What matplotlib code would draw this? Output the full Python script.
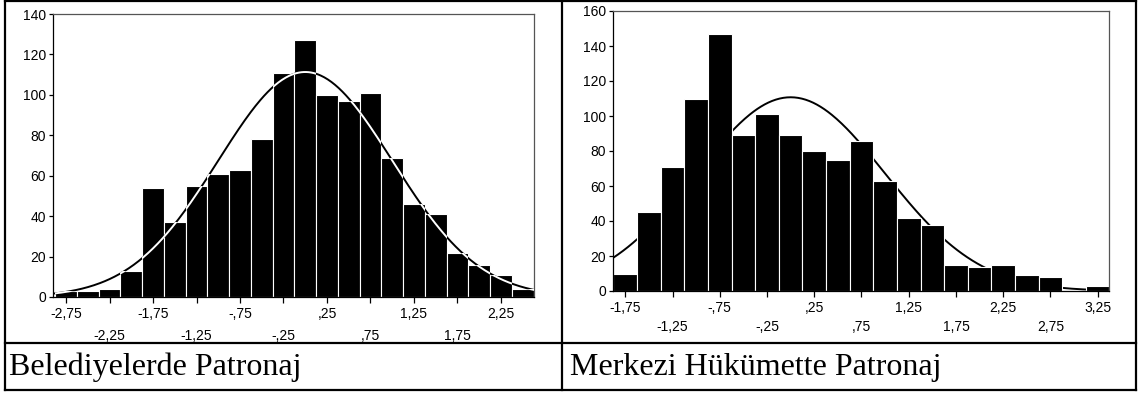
import numpy as np
import matplotlib
matplotlib.use("Agg")
import matplotlib.pyplot as plt
from matplotlib.lines import Line2D
from matplotlib.path import Path

# ---------------- data ----------------
bin_width = 0.25
left_centers = [-2.75, -2.5, -2.25, -2.0, -1.75, -1.5, -1.25, -1.0, -0.75, -0.5, -0.25,
                0.0, 0.25, 0.5, 0.75, 1.0, 1.25, 1.5, 1.75, 2.0, 2.25, 2.5]
left_counts = [3, 3, 4, 13, 54, 37, 55, 61, 63, 78, 111,
               127, 100, 97, 101, 69, 46, 41, 22, 16, 11, 4]

right_centers = [-1.75, -1.5, -1.25, -1.0, -0.75, -0.5, -0.25, 0.0, 0.25, 0.5, 0.75,
                 1.0, 1.25, 1.5, 1.75, 2.0, 2.25, 2.5, 2.75, 3.0, 3.25]
right_counts = [10, 45, 71, 110, 147, 89, 101, 89, 80, 75, 86,
                63, 42, 38, 15, 14, 15, 9, 8, 0, 3]

left_top_labels = ["-2,75", "-1,75", "-,75", ",25", "1,25", "2,25"]
left_top_ticks = [-2.75, -1.75, -0.75, 0.25, 1.25, 2.25]
left_bot_labels = ["-2,25", "-1,25", "-,25", ",75", "1,75"]
left_bot_ticks = [-2.25, -1.25, -0.25, 0.75, 1.75]

right_top_labels = ["-1,75", "-,75", ",25", "1,25", "2,25", "3,25"]
right_top_ticks = [-1.75, -0.75, 0.25, 1.25, 2.25, 3.25]
right_bot_labels = ["-1,25", "-,25", ",75", "1,75", "2,75"]
right_bot_ticks = [-1.25, -0.25, 0.75, 1.75, 2.75]

normal_mean = 0.0
normal_sd = 1.0

captions = ["Belediyelerde Patronaj", "Merkezi Hükümette Patronaj"]

# ---------------- figure ----------------
W, H = 1139, 394
fig = plt.figure(figsize=(W / 100, H / 100), dpi=100)
fig.patch.set_facecolor("white")


def px_box(l, r, top, bottom):
    return [l / W, 1 - bottom / H, (r - l) / W, (bottom - top) / H]


def normal_curve(xs, n):
    return n * bin_width * np.exp(-0.5 * ((xs - normal_mean) / normal_sd) ** 2) / (normal_sd * np.sqrt(2 * np.pi))


def setup_axis(ax, xlim, ylim, yticks, top_ticks, top_labels, bot_ticks, bot_labels, bot_pad):
    ax.set_xlim(*xlim)
    ax.set_ylim(*ylim)
    ax.set_yticks(yticks)
    ax.set_yticklabels([str(v) for v in yticks])
    ax.set_xticks(top_ticks)
    ax.set_xticklabels(top_labels)
    ax.set_xticks(bot_ticks, minor=True)
    ax.set_xticklabels(bot_labels, minor=True)
    ax.tick_params(axis="x", which="major", direction="out", length=4, width=0.9, pad=3,
                   labelsize=10)
    ax.tick_params(axis="x", which="minor", direction="out", length=4, width=0.9, pad=bot_pad,
                   labelsize=10)
    ax.tick_params(axis="y", direction="out", length=3, width=0.9, pad=2, labelsize=10)
    for lab in ax.get_xticklabels(which="both") + ax.get_yticklabels():
        lab.set_fontfamily("Liberation Sans")
    for name, sp in ax.spines.items():
        sp.set_linewidth(0.9)
        sp.set_color("black" if name in ("left", "bottom") else "#555555")


# Left panel
axL = fig.add_axes(px_box(53, 534, 14, 297))
barsL = axL.bar(left_centers, left_counts, width=bin_width, color="black",
                edgecolor="white", linewidth=0.8, zorder=2)
xl = (-2.9, 2.63)
xs = np.linspace(xl[0], xl[1], 400)
ysL = normal_curve(xs, sum(left_counts))
axL.plot(xs, ysL, color="black", lw=1.4, zorder=3)
white_line, = axL.plot(xs, ysL, color="white", lw=1.4, zorder=4)
verts, codes = [], []
for b in barsL:
    x0, y0 = b.get_x(), b.get_y()
    w, h = b.get_width(), b.get_height()
    verts += [(x0, y0), (x0 + w, y0), (x0 + w, y0 + h), (x0, y0 + h), (x0, y0)]
    codes += [Path.MOVETO, Path.LINETO, Path.LINETO, Path.LINETO, Path.CLOSEPOLY]
white_line.set_clip_path(Path(verts, codes), axL.transData)
setup_axis(axL, xl, (0, 140), list(range(0, 141, 20)),
           left_top_ticks, left_top_labels, left_bot_ticks, left_bot_labels, 19)

# Right panel
axR = fig.add_axes(px_box(613, 1109, 11, 291))
axR.bar(right_centers, right_counts, width=bin_width, color="black",
        edgecolor="white", linewidth=0.8, zorder=2)
xr = (-1.88, 3.37)
xs2 = np.linspace(xr[0], xr[1], 400)
axR.plot(xs2, normal_curve(xs2, sum(right_counts)), color="black", lw=1.4, zorder=1)
setup_axis(axR, xr, (0, 160), list(range(0, 161, 20)),
           right_top_ticks, right_top_labels, right_bot_ticks, right_bot_labels, 17)

# ---------------- table lines ----------------
def hline(y, x0, x1, lw=1.6):
    fig.add_artist(Line2D([x0 / W, x1 / W], [1 - y / H, 1 - y / H], color="black", lw=lw))


def vline(x, y0, y1, lw=1.6):
    fig.add_artist(Line2D([x / W, x / W], [1 - y0 / H, 1 - y1 / H], color="black", lw=lw))


hline(1, 5, 1136)
hline(343, 5, 1136)
hline(390, 5, 1136)
vline(5, 1, 390)
vline(1136, 1, 390)
vline(562, 1, 390)

fig.text(9 / W, 1 - 367 / H, captions[0], family="Liberation Serif", fontsize=23,
         va="center", ha="left")
fig.text(570 / W, 1 - 367 / H, captions[1], family="Liberation Serif", fontsize=23,
         va="center", ha="left")

fig.savefig("out.png", dpi=100, facecolor="white")
